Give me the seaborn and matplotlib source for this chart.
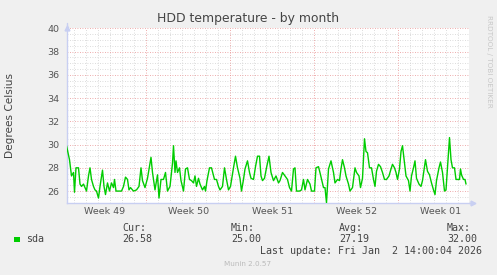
import matplotlib
matplotlib.use("Agg")
import matplotlib.pyplot as plt
import seaborn as sns
import pandas as pd

# ---- data (hours since start of the 33-day window, temperature in deg C) ----
hours = [0, 6, 10, 14, 16, 19, 24, 27, 30, 34, 37, 40, 44, 47, 50, 54, 57, 60, 64, 67,
         72, 75, 78, 82, 86, 90, 94, 96, 99, 104, 110, 114, 118, 122, 125, 128, 134, 140, 145, 149,
         152, 157, 162, 166, 169, 172, 177, 182, 185, 189, 194, 198, 202, 207, 212, 214, 217, 219, 222, 226,
         229, 234, 238, 242, 246, 250, 254, 257, 260, 264, 267, 272, 276, 278, 281, 286, 290, 296, 300, 304,
         307, 312, 316, 320, 324, 328, 334, 338, 342, 347, 350, 354, 357, 362, 366, 369, 374, 378, 382, 386,
         389, 392, 396, 400, 405, 409, 414, 419, 424, 427, 432, 437, 442, 446, 450, 454, 457, 460, 466, 470,
         474, 477, 482, 487, 490, 496, 499, 504, 508, 514, 517, 520, 524, 529, 534, 537, 542, 546, 549, 552,
         556, 559, 564, 567, 572, 577, 580, 585, 588, 592, 596, 599, 602, 606, 610, 614, 617, 620, 624, 628,
         632, 636, 640, 645, 649, 652, 656, 659, 662, 666, 669, 672, 676, 679, 684, 687, 690, 694, 697, 700,
         705, 709, 712, 716, 718, 722, 726, 730, 734, 737, 740, 745, 748, 752, 756, 759, 762, 766, 769, 772,
         776, 779, 782, 786, 788, 790, 794, 797, 799]
temps = [29.9, 28.7, 27.3, 27.6, 25.9, 28.0, 28.0, 26.6, 26.4, 26.6, 26.3, 26.0, 27.3, 28.0, 27.0, 26.4, 26.1, 26.0, 25.4, 26.4,
         27.8, 26.4, 25.7, 26.7, 26.0, 26.7, 26.3, 27.0, 26.0, 26.0, 26.0, 26.4, 27.2, 27.0, 26.1, 26.3, 26.0, 26.1, 26.4, 28.0,
         26.9, 26.3, 27.1, 28.1, 28.9, 27.6, 26.1, 27.4, 25.4, 27.0, 27.0, 27.6, 26.0, 26.4, 28.4, 29.9, 27.6, 28.6, 27.6, 28.0,
         26.9, 26.0, 27.9, 28.0, 27.0, 26.9, 26.7, 27.3, 26.4, 27.1, 26.6, 26.1, 26.4, 26.0, 26.9, 28.0, 28.0, 27.0, 27.0, 26.4,
         26.1, 26.4, 28.0, 27.0, 26.1, 26.4, 28.0, 29.0, 28.0, 27.1, 26.0, 27.0, 27.9, 28.6, 27.6, 27.1, 27.0, 28.1, 29.0, 29.0,
         27.3, 26.9, 27.1, 28.0, 29.0, 27.6, 26.9, 27.3, 26.7, 26.9, 27.6, 27.3, 27.0, 26.3, 26.0, 27.9, 28.0, 26.0, 26.0, 26.1,
         27.0, 26.1, 27.0, 26.6, 26.0, 26.0, 28.0, 28.1, 27.4, 26.3, 26.3, 25.0, 27.9, 28.6, 27.6, 26.7, 27.0, 26.9, 27.9, 28.7,
         28.0, 27.3, 26.6, 26.0, 26.3, 28.0, 27.6, 27.3, 26.3, 27.1, 30.5, 29.4, 29.3, 28.0, 28.0, 27.0, 26.4, 27.7, 28.3, 28.1,
         27.6, 27.0, 27.0, 27.3, 27.9, 28.3, 28.0, 27.6, 27.0, 27.9, 29.4, 29.9, 28.4, 27.3, 26.9, 26.0, 27.3, 28.0, 28.6, 27.1,
         26.6, 26.4, 26.9, 28.1, 28.7, 27.7, 27.4, 26.7, 26.1, 25.7, 26.9, 28.0, 28.5, 27.6, 26.0, 26.1, 28.0, 30.6, 28.7, 28.0,
         28.0, 27.0, 27.0, 27.0, 27.9, 27.4, 27.0, 27.0, 26.6]

week_labels = ["Week 49", "Week 50", "Week 51", "Week 52", "Week 01"]
week_centers = [77, 245, 413, 581, 749]
week_bounds = [159, 327, 495, 663]
y_ticks = [26, 28, 30, 32, 34, 36, 38, 40]

series_name = "sda"
stat_names = ["Cur:", "Min:", "Avg:", "Max:"]
stat_values = ["26.58", "25.00", "27.19", "32.00"]
last_update = "Last update: Fri Jan  2 14:00:04 2026"

# ---- style ----
sns.set_theme(style="white")
plt.rcParams["font.family"] = ["DejaVu Sans"]

W, H = 497, 275
BG = "#F0F0F0"
AXIS = "#C8CFF2"
fig = plt.figure(figsize=(W / 100, H / 100), dpi=100, facecolor=BG)

def fx(x):
    return x / W

def fy(y):
    return 1 - y / H

left, right, top, bottom = 66.5, 468.5, 28.3, 202.7
ax = fig.add_axes([fx(left), fy(bottom), (right - left) / W, (bottom - top) / H])
ax.set_facecolor("white")

df = pd.DataFrame({"hours": hours, "temp": temps})

XMAX = 804
# grid
for d in range(15, XMAX, 24):
    if d not in week_bounds:
        ax.axvline(d, color="#D0D0D0", lw=0.6, ls=(0, (1, 2)), zorder=1)
for b in week_bounds:
    ax.axvline(b, color="#E89090", lw=0.6, ls=(0, (1, 2)), zorder=1.2)
y = 25.5
while y <= 40.01:
    if abs(y - round(y / 2) * 2) > 1e-6:
        ax.axhline(y, color="#D0D0D0", lw=0.6, ls=(0, (1, 2)), zorder=1)
    y += 0.5
for t in y_ticks:
    ax.axhline(t, color="#E89090", lw=0.6, ls=(0, (1, 2)), zorder=1.2)

sns.lineplot(data=df, x="hours", y="temp", color="#00CC00", lw=1.0, ax=ax, zorder=3)

ax.set_xlim(0, XMAX)
ax.set_ylim(25, 40)
ax.set_xticks(week_centers)
ax.set_xticklabels(week_labels)
ax.set_yticks(y_ticks)
ax.set_yticklabels([str(t) for t in y_ticks])
ax.tick_params(axis="both", length=0, labelsize=6.8, colors="#555555")
ax.tick_params(axis="x", pad=3)
ax.tick_params(axis="y", pad=5)
ax.set_xlabel("")
ax.set_ylabel("")

for s in ["top", "right"]:
    ax.spines[s].set_visible(False)
for s in ["left", "bottom"]:
    ax.spines[s].set_color(AXIS)
    ax.spines[s].set_linewidth(1.0)

# axis arrows
ax.plot([0], [1.0], transform=ax.transAxes, marker="^", ms=3.5, color=AXIS, clip_on=False)
ax.plot([0, 0], [1.0, 1.03], transform=ax.transAxes, color=AXIS, lw=1, clip_on=False)
ax.plot([1.0, 1.01], [0, 0], transform=ax.transAxes, color=AXIS, lw=1, clip_on=False)
ax.plot([1.012], [0], transform=ax.transAxes, marker=">", ms=3.5, color=AXIS, clip_on=False)

# texts
fig.text(fx(248), fy(18.5), "HDD temperature - by month", ha="center", va="center",
         fontsize=8.9, color="#444444")
fig.text(fx(10), fy(115), "Degrees Celsius", rotation=90, ha="center", va="center",
         fontsize=7.6, color="#444444")
fig.text(fx(488.5), fy(15), "RRDTOOL / TOBI OETIKER", rotation=270, ha="center", va="top",
         fontsize=5.2, color="#C8C8C8")

mono = "DejaVu Sans Mono"
fig.patches.append(plt.Rectangle((fx(14), fy(242)), 6 / W, 5 / H, transform=fig.transFigure,
                                 facecolor="#00CC00", edgecolor="none"))
fig.text(fx(26.5), fy(239.5), series_name, family=mono, fontsize=7.2, color="#444444",
         ha="left", va="center")
stat_x = [122.5, 231, 339, 447]
for sx, name, val in zip(stat_x, stat_names, stat_values):
    fig.text(fx(sx), fy(228), name, family=mono, fontsize=7.2, color="#444444", ha="left", va="center")
    fig.text(fx(sx), fy(239.5), val, family=mono, fontsize=7.2, color="#444444", ha="left", va="center")
fig.text(fx(482.5), fy(251), last_update, family=mono, fontsize=7.2, color="#444444",
         ha="right", va="center")
fig.text(fx(248), fy(264), "Munin 2.0.57", fontsize=5.2, color="#BBBBBB", ha="center", va="center")

fig.savefig("out.png", dpi=100, facecolor=BG)
